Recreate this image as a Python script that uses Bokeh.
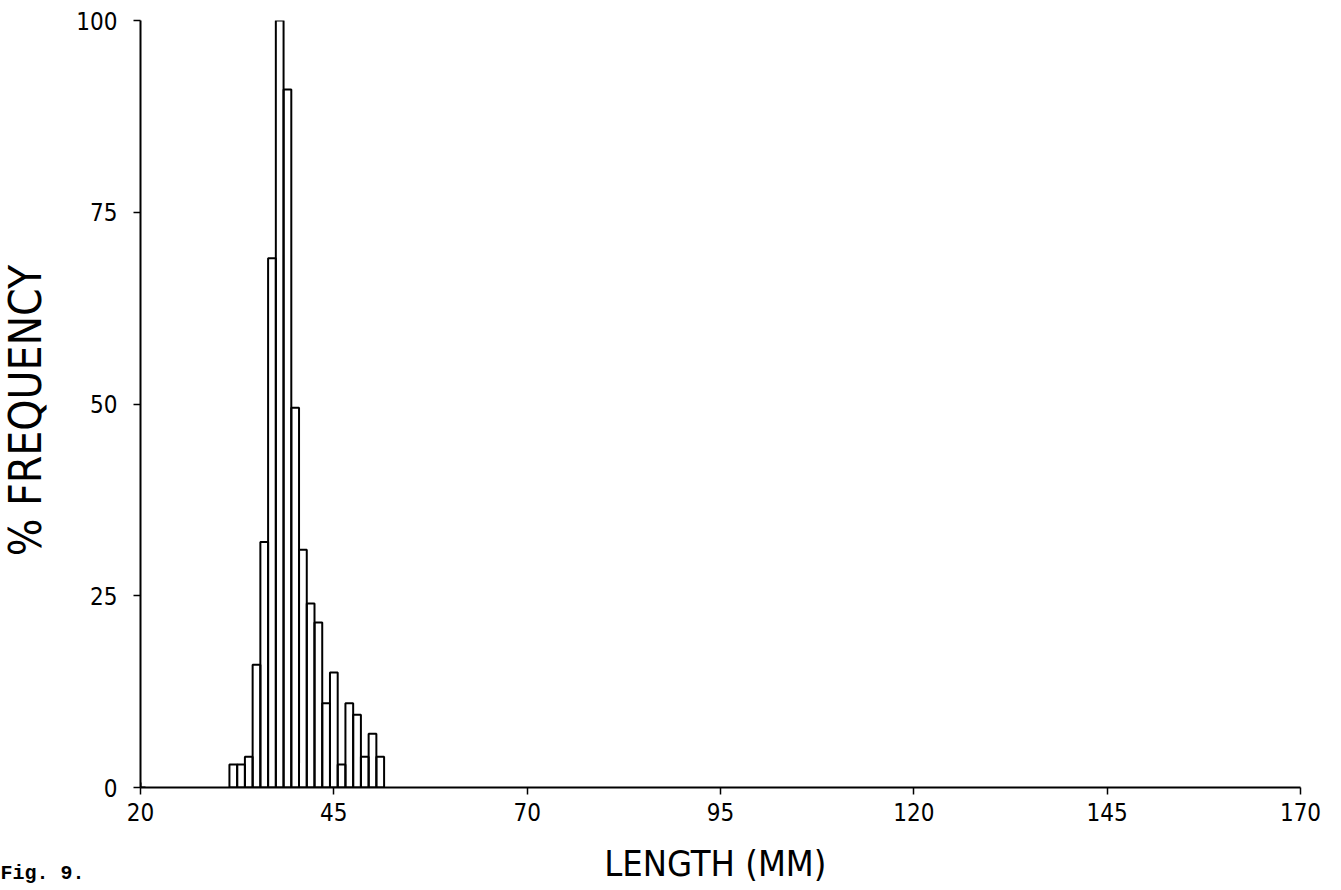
import math
from bokeh.plotting import figure
from bokeh.models import Range1d, FixedTicker, Label
from bokeh.embed import file_html
from bokeh.resources import INLINE

# Data: % frequency per 1 mm length class (class centres)
lengths = [32, 33, 34, 35, 36, 37, 38, 39, 40, 41, 42, 43, 44, 45, 46, 47, 48, 49, 50, 51]
freq = [3, 3, 4, 16, 32, 69, 100, 91, 49.5, 31, 24, 21.5, 11, 15, 3, 11, 9.5, 4, 7, 4]
x_ticks = [20, 45, 70, 95, 120, 145, 170]
y_ticks = [0, 25, 50, 75, 100]

FONT = "'Liberation Sans Narrow', 'DejaVu Sans Condensed', 'DejaVu Sans'"

p = figure(width=1325, height=890, output_backend="svg", toolbar_location=None,
           x_range=Range1d(20, 170), y_range=Range1d(0, 100),
           min_border_left=140, min_border_right=25, min_border_top=20, min_border_bottom=103)
p.outline_line_color = None
p.xgrid.visible = False
p.ygrid.visible = False
p.background_fill_color = "white"
p.border_fill_color = "white"

left = [v - 0.5 for v in lengths]
right = [v + 0.5 for v in lengths]
p.quad(left=left, right=right, bottom=0, top=freq, fill_color=None,
       line_color="black", line_width=2)
p.scatter(x=[x_ticks[0]], y=[y_ticks[0]], marker="cross", size=10,
          line_color="black", line_width=2)

for ax in (p.xaxis[0], p.yaxis[0]):
    ax.axis_line_color = "black"
    ax.axis_line_width = 2
    ax.major_tick_line_color = "black"
    ax.major_tick_line_width = 1.5
    ax.minor_tick_line_color = None
    ax.major_tick_in = 0
    ax.major_label_text_font = FONT
    ax.major_label_text_font_size = "24px"
    ax.major_label_text_color = "black"

p.xaxis.ticker = FixedTicker(ticks=x_ticks)
p.yaxis.ticker = FixedTicker(ticks=y_ticks)
p.xaxis.major_tick_out = 7
p.yaxis.major_tick_out = 7
p.xaxis.major_label_standoff = 8
p.yaxis.major_label_standoff = 16

# Axis titles and figure caption placed in the side panels
p.add_layout(Label(x=580, y=1, x_units="screen", y_units="screen", text="LENGTH  (MM)",
                   text_font=FONT, text_font_size="36px", text_color="black",
                   text_align="center", text_baseline="middle"), "below")
p.add_layout(Label(x=-140, y=14, x_units="screen", y_units="screen", text="Fig. 9.",
                   text_font="'Liberation Mono', 'DejaVu Sans Mono'", text_font_style="bold",
                   text_font_size="20px", text_color="black", text_baseline="alphabetic"), "below")
p.add_layout(Label(x=3, y=377, x_units="screen", y_units="screen", text="% FREQUENCY",
                   angle=math.pi / 2, text_font=FONT, text_font_size="44px", text_color="black",
                   text_align="center", text_baseline="middle"), "left")

open("out.html", "w").write(file_html(p, INLINE))
